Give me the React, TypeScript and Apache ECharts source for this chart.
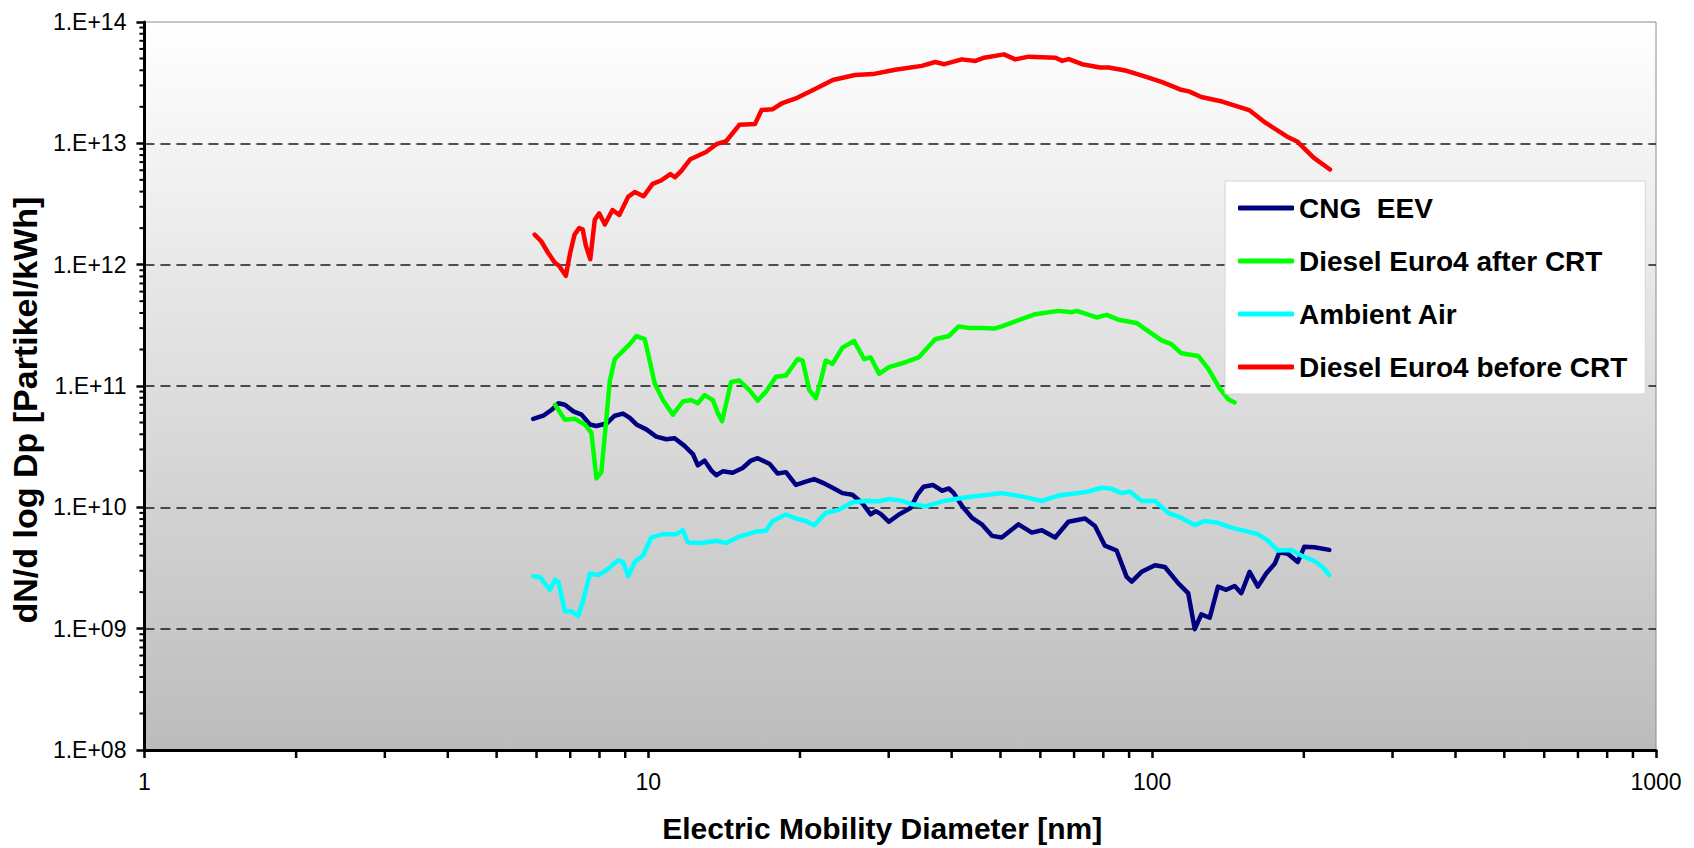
import React, { useEffect, useRef } from "react";
import * as echarts from "echarts";

// [diameter nm, dN/dlogDp particles/kWh]
const cngEev: [number, number][] = [
  [5.91, 5.36e10], [6.19, 5.69e10], [6.43, 6.37e10], [6.63, 7.21e10], [6.83, 7.0e10], [7.1, 6.18e10],
  [7.37, 5.81e10], [7.66, 4.82e10], [7.89, 4.68e10], [8.26, 4.91e10], [8.58, 5.69e10], [8.91, 5.92e10],
  [9.19, 5.46e10], [9.47, 4.82e10], [9.91, 4.39e10], [10.37, 3.83e10], [10.86, 3.64e10], [11.28, 3.71e10],
  [11.8, 3.21e10], [12.26, 2.75e10], [12.54, 2.22e10], [12.93, 2.43e10], [13.33, 2.02e10], [13.64, 1.84e10],
  [14.05, 1.98e10], [14.71, 1.93e10], [15.39, 2.11e10], [15.99, 2.43e10], [16.49, 2.54e10], [17.39, 2.29e10],
  [18.06, 1.9e10], [18.76, 1.95e10], [19.63, 1.53e10], [20.54, 1.63e10], [21.34, 1.71e10], [22.16, 1.6e10],
  [23.21, 1.45e10], [24.28, 1.31e10], [25.42, 1.27e10], [26.6, 1.08e10], [27.63, 8.73e9], [28.27, 9.29e9],
  [28.92, 8.83e9], [30.04, 7.6e9], [31.44, 8.73e9], [33.15, 9.86e9], [34.2, 1.27e10], [35.2, 1.48e10],
  [36.7, 1.53e10], [38.3, 1.37e10], [39.5, 1.43e10], [40.4, 1.31e10], [41.98, 1.02e10], [43.9, 8.2e9],
  [45.9, 7.24e9], [48.1, 5.82e9], [50.3, 5.64e9], [54.3, 7.24e9], [57.7, 6.19e9], [60.4, 6.47e9],
  [64.2, 5.64e9], [68.2, 7.6e9], [73.6, 8.09e9], [77.0, 7.01e9], [80.6, 4.83e9], [85.0, 4.41e9],
  [89.0, 2.67e9], [91.1, 2.44e9], [95.3, 2.94e9], [101.3, 3.33e9], [106.0, 3.22e9], [112.6, 2.37e9],
  [117.9, 1.96e9], [121.5, 9.9e8], [125.2, 1.31e9], [130.1, 1.23e9], [135.1, 2.22e9], [140.3, 2.09e9],
  [145.8, 2.25e9], [150.3, 1.96e9], [156.1, 2.94e9], [162.1, 2.22e9], [168.4, 2.85e9], [175.2, 3.44e9],
  [178.9, 4.27e9], [185.9, 4.14e9], [194.5, 3.54e9], [200.5, 4.74e9], [209.8, 4.68e9], [224.7, 4.46e9],
];

const dieselAfterCrt: [number, number][] = [
  [6.53, 7.0e10], [6.83, 5.28e10], [7.15, 5.36e10], [7.48, 4.82e10], [7.71, 4.12e10], [7.89, 1.73e10],
  [8.07, 1.95e10], [8.39, 1.11e11], [8.58, 1.67e11], [8.91, 1.95e11], [9.19, 2.21e11], [9.47, 2.58e11],
  [9.84, 2.43e11], [10.06, 1.62e11], [10.3, 1.05e11], [10.69, 7.67e10], [11.19, 5.81e10], [11.71, 7.45e10],
  [12.16, 7.67e10], [12.54, 7.21e10], [12.93, 8.41e10], [13.43, 7.67e10], [13.74, 5.98e10], [14.01, 5.13e10],
  [14.6, 1.08e11], [15.16, 1.11e11], [15.87, 9.25e10], [16.49, 7.59e10], [17.12, 8.97e10], [17.92, 1.19e11],
  [18.76, 1.22e11], [19.79, 1.67e11], [20.24, 1.62e11], [20.87, 9.25e10], [21.51, 7.93e10], [22.0, 1.11e11],
  [22.5, 1.62e11], [23.21, 1.52e11], [24.28, 2.07e11], [25.61, 2.35e11], [26.8, 1.67e11], [27.63, 1.72e11],
  [28.71, 1.26e11], [30.04, 1.43e11], [32.4, 1.57e11], [34.4, 1.72e11], [37.1, 2.43e11], [39.5, 2.58e11],
  [41.3, 3.1e11], [43.3, 3.01e11], [45.9, 3.01e11], [48.8, 2.98e11], [50.3, 3.1e11], [53.5, 3.41e11],
  [58.6, 3.91e11], [65.2, 4.16e11], [69.3, 4.06e11], [70.9, 4.16e11], [77.6, 3.67e11], [81.2, 3.86e11],
  [85.7, 3.52e11], [93.1, 3.31e11], [98.2, 2.83e11], [104.4, 2.38e11], [109.2, 2.21e11], [114.3, 1.86e11],
  [123.4, 1.77e11], [129.2, 1.39e11], [136.1, 9.55e10], [141.5, 7.78e10], [145.8, 7.31e10],
];

const ambientAir: [number, number][] = [
  [5.91, 2.71e9], [6.1, 2.65e9], [6.38, 2.09e9], [6.53, 2.52e9], [6.63, 2.44e9], [6.83, 1.39e9],
  [7.04, 1.39e9], [7.26, 1.27e9], [7.43, 1.73e9], [7.66, 2.85e9], [7.95, 2.76e9], [8.26, 3.03e9],
  [8.71, 3.66e9], [8.91, 3.54e9], [9.12, 2.71e9], [9.4, 3.54e9], [9.76, 4.01e9], [10.14, 5.64e9],
  [10.69, 6.01e9], [11.36, 6.01e9], [11.71, 6.47e9], [11.98, 5.14e9], [12.83, 5.08e9], [13.64, 5.31e9],
  [14.27, 5.08e9], [15.16, 5.74e9], [16.36, 6.31e9], [17.12, 6.4e9], [17.65, 7.71e9], [18.76, 8.73e9],
  [19.63, 8.09e9], [20.54, 7.71e9], [21.34, 7.11e9], [22.5, 8.99e9], [23.91, 9.57e9], [25.42, 1.1e10],
  [27.0, 1.13e10], [28.71, 1.12e10], [30.04, 1.17e10], [31.9, 1.13e10], [33.4, 1.06e10], [35.5, 1.02e10],
  [38.3, 1.12e10], [40.7, 1.17e10], [43.9, 1.23e10], [47.4, 1.27e10], [50.3, 1.31e10], [55.1, 1.23e10],
  [60.4, 1.13e10], [65.2, 1.25e10], [71.4, 1.31e10], [74.7, 1.35e10], [79.4, 1.45e10], [83.1, 1.42e10],
  [87.0, 1.31e10], [90.3, 1.35e10], [95.3, 1.13e10], [101.3, 1.13e10], [107.6, 8.99e9], [114.3, 8.18e9],
  [121.5, 7.14e9], [127.2, 7.71e9], [135.1, 7.46e9], [143.6, 6.81e9], [152.6, 6.4e9], [162.1, 6.01e9],
  [169.7, 5.31e9], [177.6, 4.41e9], [188.7, 4.46e9], [197.6, 4.01e9], [209.8, 3.61e9], [218.0, 3.22e9],
  [224.7, 2.76e9],
];

const dieselBeforeCrt: [number, number][] = [
  [5.95, 1.77e12], [6.13, 1.56e12], [6.32, 1.26e12], [6.52, 1.04e12], [6.65, 9.8e11], [6.86, 8.1e11],
  [7.0, 1.26e12], [7.14, 1.77e12], [7.29, 2.0e12], [7.41, 1.95e12], [7.52, 1.43e12], [7.67, 1.11e12],
  [7.83, 2.34e12], [7.99, 2.65e12], [8.2, 2.14e12], [8.49, 2.82e12], [8.76, 2.57e12], [9.12, 3.62e12],
  [9.4, 3.97e12], [9.79, 3.66e12], [10.2, 4.63e12], [10.6, 4.94e12], [11.06, 5.58e12], [11.29, 5.25e12],
  [11.64, 5.96e12], [12.12, 7.4e12], [13.02, 8.49e12], [13.69, 9.91e12], [14.27, 1.04e13], [15.16, 1.42e13],
  [16.28, 1.44e13], [16.78, 1.88e13], [17.66, 1.91e13], [18.39, 2.13e13], [19.75, 2.37e13], [21.43, 2.81e13],
  [23.24, 3.33e13], [25.73, 3.66e13], [27.91, 3.72e13], [30.9, 4.04e13], [34.9, 4.35e13], [37.1, 4.68e13],
  [38.7, 4.49e13], [41.9, 4.92e13], [44.6, 4.78e13], [46.4, 5.08e13], [50.8, 5.41e13], [53.5, 4.92e13],
  [56.9, 5.18e13], [64.3, 5.08e13], [66.3, 4.78e13], [68.3, 4.95e13], [72.6, 4.49e13], [78.8, 4.22e13],
  [82.0, 4.22e13], [89.0, 3.96e13], [96.6, 3.56e13], [104.7, 3.19e13], [113.6, 2.78e13], [118.3, 2.68e13],
  [125.2, 2.41e13], [137.7, 2.21e13], [155.8, 1.88e13], [167.8, 1.48e13], [185.0, 1.14e13], [194.4, 1.03e13],
  [209.4, 7.59e12], [225.4, 6.08e12],
];

const seriesNames = ["CNG  EEV", "Diesel Euro4 after CRT", "Ambient Air", "Diesel Euro4 before CRT"];
const seriesColors = ["#000080", "#00ff00", "#00ffff", "#ff0000"];

const X_MIN = 1;
const X_MAX = 1000;
const Y_MIN = 1e8;
const Y_MAX = 1e14;
const xDecades = [1, 10, 100];
const yDecades = [1e8, 1e9, 1e10, 1e11, 1e12, 1e13];
const minorMultipliers = [2, 3, 4, 5, 6, 7, 8, 9];

const FONT = "'Liberation Sans', Arial, Helvetica, sans-serif";

export default function App() {
  const ref = useRef<HTMLDivElement>(null);

  useEffect(() => {
    if (!ref.current) return;
    const chart = echarts.init(ref.current, null, { renderer: "svg" });

    const xMinor: number[] = [];
    xDecades.forEach((d) => minorMultipliers.forEach((m) => xMinor.push(d * m)));
    const yMinor: number[] = [];
    yDecades.forEach((d) => minorMultipliers.forEach((m) => yMinor.push(d * m)));

    const allData = [cngEev, dieselAfterCrt, ambientAir, dieselBeforeCrt];

    const lineSeries = allData.map((data, i) => ({
      name: seriesNames[i],
      type: "line",
      data,
      showSymbol: false,
      symbol: "none",
      smooth: false,
      lineStyle: { color: seriesColors[i], width: 4.5, join: "round", cap: "round" },
      itemStyle: { color: seriesColors[i] },
      z: 3,
    }));

    const xTickSeries = {
      type: "custom",
      silent: true,
      clip: false,
      z: 6,
      data: xMinor.map((v) => [v, Y_MIN]),
      renderItem: (_p: any, api: any) => {
        const pt = api.coord([api.value(0), api.value(1)]);
        return {
          type: "line",
          shape: { x1: pt[0], y1: pt[1], x2: pt[0], y2: pt[1] + 8 },
          style: { stroke: "#000", lineWidth: 2.5 },
        };
      },
    };

    const yTickSeries = {
      type: "custom",
      silent: true,
      clip: false,
      z: 6,
      data: yMinor.map((v) => [X_MIN, v]),
      renderItem: (_p: any, api: any) => {
        const pt = api.coord([api.value(0), api.value(1)]);
        return {
          type: "line",
          shape: { x1: pt[0], y1: pt[1], x2: pt[0] - 5, y2: pt[1] },
          style: { stroke: "#000", lineWidth: 2 },
        };
      },
    };

    chart.setOption({
      animation: false,
      backgroundColor: "#ffffff",
      textStyle: { fontFamily: FONT },
      grid: {
        left: 140,
        top: 22,
        width: 1516,
        height: 741,
        show: true,
        borderColor: "#8c8c8c",
        borderWidth: 1,
        backgroundColor: new echarts.graphic.LinearGradient(0, 0, 0, 1, [
          { offset: 0, color: "#ffffff" },
          { offset: 1, color: "#bcbcbc" },
        ]),
        containLabel: false,
      },
      legend: {
        data: seriesNames,
        orient: "vertical",
        left: 1225,
        top: 181,
        backgroundColor: "#ffffff",
        borderColor: "#d4d4d4",
        borderWidth: 1,
        padding: [13, 18, 13, 13],
        itemGap: 25,
        itemWidth: 56,
        itemHeight: 5,
        icon: "roundRect",
        selectedMode: false,
        textStyle: { fontSize: 28, fontWeight: "bold", color: "#000", fontFamily: FONT },
      },
      xAxis: {
        type: "log",
        logBase: 10,
        min: X_MIN,
        max: X_MAX,
        name: "Electric Mobility Diameter [nm]",
        nameLocation: "middle",
        nameGap: 63,
        nameTextStyle: {
          fontSize: 30,
          fontWeight: "bold",
          color: "#000",
          fontFamily: FONT,
          padding: [0, 36, 0, 0],
        },
        axisLine: { show: true, onZero: false, lineStyle: { color: "#000", width: 3 } },
        axisTick: { show: true, inside: false, length: 8, lineStyle: { color: "#000", width: 2.5 } },
        axisLabel: {
          fontSize: 23,
          color: "#000",
          margin: 20,
          fontFamily: FONT,
          formatter: (v: number) => String(Math.round(v)),
        },
        splitLine: { show: false },
      },
      yAxis: {
        type: "log",
        logBase: 10,
        min: Y_MIN,
        max: Y_MAX,
        name: "dN/d log Dp [Partikel/kWh]",
        nameLocation: "middle",
        nameGap: 93,
        nameTextStyle: {
          fontSize: 34,
          fontWeight: "bold",
          color: "#000",
          fontFamily: FONT,
          padding: [0, 48, 0, 0],
        },
        axisLine: { show: true, onZero: false, lineStyle: { color: "#000", width: 3 } },
        axisTick: { show: true, inside: false, length: 8, lineStyle: { color: "#000", width: 2.5 } },
        axisLabel: {
          fontSize: 23,
          color: "#000",
          margin: 18,
          fontFamily: FONT,
          formatter: (v: number) => {
            const e = Math.round(Math.log10(v));
            return "1.E+" + (e < 10 ? "0" + e : String(e));
          },
        },
        splitLine: {
          show: true,
          lineStyle: {
            color: ["rgba(0,0,0,0)", "#1a1a1a", "#1a1a1a", "#1a1a1a", "#1a1a1a", "#1a1a1a", "rgba(0,0,0,0)"],
            type: [10, 6],
            width: 1.6,
          },
        },
      },
      series: [...lineSeries, xTickSeries, yTickSeries],
    });

    return () => chart.dispose();
  }, []);

  return (
    <div
      ref={ref}
      style={{ position: "fixed", left: 0, top: 0, width: 1694, height: 848, background: "#fff" }}
    />
  );
}
